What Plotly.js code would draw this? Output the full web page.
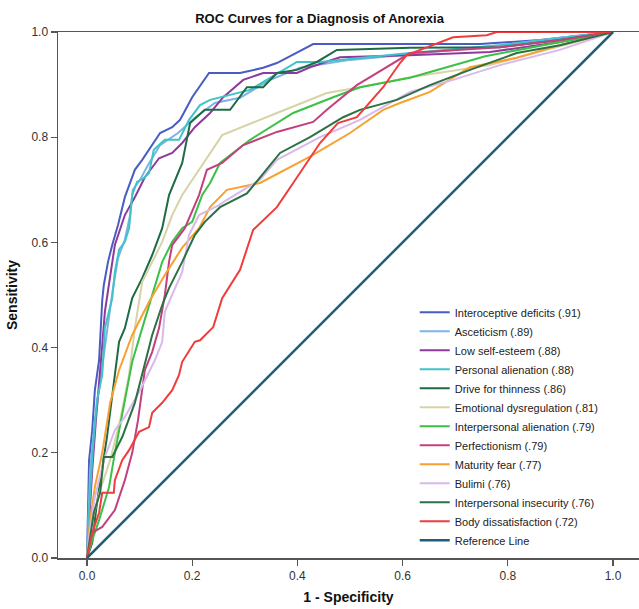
<!DOCTYPE html>
<html>
<head>
<meta charset="utf-8">
<script src="https://cdn.plot.ly/plotly-3.0.1.min.js"></script>
<style>html,body{margin:0;padding:0;background:#fff;}#chart{width:639px;height:609px;}</style>
</head>
<body>
<div id="chart"></div>
<script>
// Series names (legend labels)
const seriesNames = [
  "Interoceptive deficits (.91)",
  "Asceticism (.89)",
  "Low self-esteem (.88)",
  "Personal alienation (.88)",
  "Drive for thinness (.86)",
  "Emotional dysregulation (.81)",
  "Interpersonal alienation (.79)",
  "Perfectionism (.79)",
  "Maturity fear (.77)",
  "Bulimi (.76)",
  "Interpersonal insecurity (.76)",
  "Body dissatisfaction (.72)",
  "Reference Line"
];

// 1 - Specificity (x) and Sensitivity (y) per curve
const interoX = [0,0.004,0.010,0.015,0.023,0.029,0.032,0.040,0.048,0.059,0.072,0.091,0.105,0.127,0.139,0.162,0.177,0.200,0.213,0.232,0.291,0.335,0.361,0.430,0.747,0.861,1];
const interoY = [0,0.186,0.243,0.319,0.376,0.490,0.519,0.563,0.595,0.633,0.686,0.738,0.757,0.789,0.808,0.819,0.833,0.876,0.895,0.922,0.922,0.932,0.941,0.977,0.977,0.985,1];

const asceticX = [0,0.002,0.006,0.015,0.025,0.040,0.049,0.059,0.072,0.082,0.087,0.101,0.116,0.139,0.173,0.205,0.243,0.291,0.348,0.405,0.500,0.595,0.785,0.899,1];
const asceticY = [0,0.072,0.167,0.262,0.338,0.452,0.510,0.570,0.605,0.652,0.700,0.719,0.747,0.785,0.808,0.837,0.865,0.875,0.909,0.932,0.947,0.956,0.975,0.989,1];

const selfEsteemX = [0,0.004,0.010,0.017,0.025,0.029,0.034,0.042,0.053,0.072,0.091,0.110,0.137,0.162,0.181,0.205,0.234,0.259,0.297,0.335,0.399,0.424,0.481,0.614,0.766,0.899,1];
const selfEsteemY = [0,0.072,0.167,0.262,0.348,0.405,0.468,0.525,0.595,0.652,0.686,0.724,0.760,0.770,0.789,0.819,0.846,0.876,0.909,0.922,0.922,0.933,0.952,0.956,0.962,0.981,1];

const personalAlienX = [0,0.004,0.011,0.019,0.029,0.034,0.048,0.053,0.061,0.072,0.080,0.086,0.095,0.108,0.118,0.127,0.148,0.175,0.194,0.215,0.234,0.310,0.399,0.443,0.614,0.785,1];
const personalAlienY = [0,0.091,0.205,0.300,0.348,0.437,0.494,0.544,0.586,0.601,0.627,0.690,0.715,0.722,0.732,0.776,0.795,0.795,0.833,0.861,0.871,0.890,0.943,0.943,0.960,0.975,1];

const driveX = [0,0.010,0.019,0.032,0.038,0.053,0.061,0.072,0.086,0.105,0.124,0.143,0.156,0.181,0.196,0.224,0.272,0.304,0.335,0.361,0.399,0.437,0.475,0.614,0.785,0.899,1];
const driveY = [0,0.029,0.105,0.192,0.230,0.348,0.411,0.437,0.494,0.532,0.576,0.627,0.690,0.751,0.827,0.852,0.852,0.895,0.895,0.922,0.928,0.943,0.966,0.970,0.971,0.985,1];

const emotionalX = [0,0.010,0.025,0.044,0.063,0.080,0.091,0.099,0.105,0.118,0.143,0.162,0.181,0.213,0.234,0.257,0.361,0.456,0.519,0.614,0.766,1];
const emotionalY = [0,0.072,0.129,0.186,0.262,0.348,0.437,0.487,0.525,0.551,0.601,0.652,0.690,0.738,0.770,0.804,0.846,0.884,0.895,0.914,0.937,1];

const interAlienX = [0,0.010,0.023,0.042,0.053,0.068,0.086,0.105,0.124,0.143,0.162,0.181,0.200,0.219,0.234,0.253,0.310,0.392,0.468,0.519,0.614,0.757,1];
const interAlienY = [0,0.034,0.072,0.135,0.200,0.281,0.373,0.437,0.500,0.563,0.601,0.627,0.639,0.690,0.713,0.751,0.795,0.846,0.876,0.895,0.913,0.954,1];

const perfectX = [0,0.002,0.010,0.029,0.053,0.072,0.086,0.097,0.110,0.124,0.137,0.148,0.156,0.162,0.186,0.213,0.228,0.257,0.297,0.361,0.430,0.456,0.513,0.614,0.785,0.899,1];
const perfectY = [0,0.015,0.048,0.059,0.091,0.148,0.200,0.262,0.357,0.392,0.437,0.500,0.563,0.595,0.627,0.690,0.738,0.751,0.785,0.810,0.829,0.852,0.899,0.960,0.971,0.985,1];

const maturityX = [0,0.006,0.015,0.029,0.044,0.061,0.086,0.118,0.148,0.181,0.213,0.234,0.266,0.329,0.424,0.500,0.563,0.595,0.652,0.728,0.817,0.899,1];
const maturityY = [0,0.072,0.135,0.200,0.295,0.357,0.424,0.487,0.538,0.590,0.627,0.667,0.700,0.713,0.763,0.808,0.852,0.865,0.886,0.933,0.951,0.975,1];

const bulimiX = [0,0.004,0.015,0.034,0.053,0.072,0.101,0.129,0.143,0.148,0.156,0.181,0.194,0.213,0.251,0.266,0.329,0.361,0.443,0.519,0.614,0.696,0.785,0.899,1];
const bulimiY = [0,0.040,0.116,0.192,0.243,0.268,0.319,0.376,0.411,0.468,0.487,0.544,0.614,0.652,0.671,0.681,0.719,0.757,0.800,0.833,0.886,0.909,0.937,0.966,1];

const insecurityX = [0,0.013,0.025,0.032,0.048,0.067,0.091,0.105,0.124,0.143,0.156,0.181,0.205,0.224,0.253,0.304,0.367,0.424,0.487,0.519,0.589,0.652,0.728,0.817,0.899,1];
const insecurityY = [0,0.086,0.124,0.192,0.192,0.230,0.295,0.348,0.424,0.481,0.513,0.563,0.614,0.639,0.667,0.693,0.770,0.800,0.838,0.852,0.871,0.899,0.928,0.960,0.975,1];

const bodyX = [0,0.004,0.010,0.023,0.029,0.051,0.053,0.067,0.080,0.099,0.118,0.124,0.143,0.162,0.175,0.181,0.205,0.215,0.240,0.257,0.272,0.291,0.316,0.361,0.392,0.443,0.477,0.513,0.563,0.595,0.608,0.696,0.760,0.779,1];
const bodyY = [0,0.021,0.048,0.086,0.124,0.124,0.148,0.186,0.205,0.240,0.249,0.276,0.295,0.319,0.348,0.373,0.411,0.414,0.439,0.494,0.519,0.548,0.624,0.667,0.713,0.789,0.827,0.838,0.895,0.941,0.956,0.990,0.994,1,1];

const refX = [0,1];
const refY = [0,1];

const xTickVals = [0,0.2,0.4,0.6,0.8,1.0];
const xTickText = ["0.0","0.2","0.4","0.6","0.8","1.0"];
const yTickVals = [0,0.2,0.4,0.6,0.8,1.0];
const yTickText = ["0.0","0.2","0.4","0.6","0.8","1.0"];

const xs = [interoX, asceticX, selfEsteemX, personalAlienX, driveX, emotionalX, interAlienX, perfectX, maturityX, bulimiX, insecurityX, bodyX, refX];
const ys = [interoY, asceticY, selfEsteemY, personalAlienY, driveY, emotionalY, interAlienY, perfectY, maturityY, bulimiY, insecurityY, bodyY, refY];
const colors = ["#4a5cc4","#7eb3e3","#8d3a9c","#3fc3c8","#1f6b46","#d6d3a6","#3cc048","#c3407f","#f8a130","#d9b9ec","#2b7144","#f03c3c","#1d5e78"];
const widths = [2,2,2,2,2,2,2,2,2,2,2,2,2.5];

const traces = seriesNames.map((name, i) => ({
  type: "scatter",
  mode: "lines",
  name: name,
  x: xs[i],
  y: ys[i],
  line: {color: colors[i], width: widths[i]},
  hoverinfo: "skip"
}));

const fontFam = "Arial, 'Liberation Sans', sans-serif";

const layout = {
  width: 639,
  height: 609,
  margin: {l: 58, r: 0, t: 32, b: 51},
  paper_bgcolor: "#ffffff",
  plot_bgcolor: "#ffffff",
  font: {family: fontFam, color: "#333333", size: 12},
  title: {
    text: "<b>ROC Curves for a Diagnosis of Anorexia</b>",
    font: {family: fontFam, size: 13, color: "#111111"},
    x: 0.5, xref: "container", xanchor: "center",
    y: 1 - 18/609, yref: "container", yanchor: "middle"
  },
  xaxis: {
    range: [-0.0551, 1.0494],
    tickvals: xTickVals, ticktext: xTickText,
    ticks: "outside", ticklen: 6, tickwidth: 1.2, tickcolor: "#555555",
    showline: true, linecolor: "#555555", linewidth: 1.5, mirror: true,
    showgrid: false, zeroline: false,
    tickfont: {family: fontFam, size: 12, color: "#333333"},
    title: {text: "<b>1 - Specificity</b>", font: {family: fontFam, size: 14, color: "#111111"}, standoff: 10}
  },
  yaxis: {
    range: [0, 1],
    tickvals: yTickVals, ticktext: yTickText,
    ticks: "outside", ticklen: 6, tickwidth: 1.2, tickcolor: "#555555",
    showline: true, linecolor: "#555555", linewidth: 1.5, mirror: false,
    showgrid: false, zeroline: false,
    tickfont: {family: fontFam, size: 12, color: "#333333"},
    title: {text: "<b>Sensitivity</b>", font: {family: fontFam, size: 14, color: "#111111"}, standoff: 10}
  },
  legend: {
    x: 0.614, xanchor: "left",
    y: 0.006, yanchor: "bottom",
    bgcolor: "rgba(0,0,0,0)",
    borderwidth: 0,
    font: {family: fontFam, size: 11, color: "#222222"},
    itemwidth: 30,
    tracegroupgap: 0
  },
  showlegend: true
};

Plotly.newPlot("chart", traces, layout, {displayModeBar: false, staticPlot: true});
</script>
</body>
</html>
